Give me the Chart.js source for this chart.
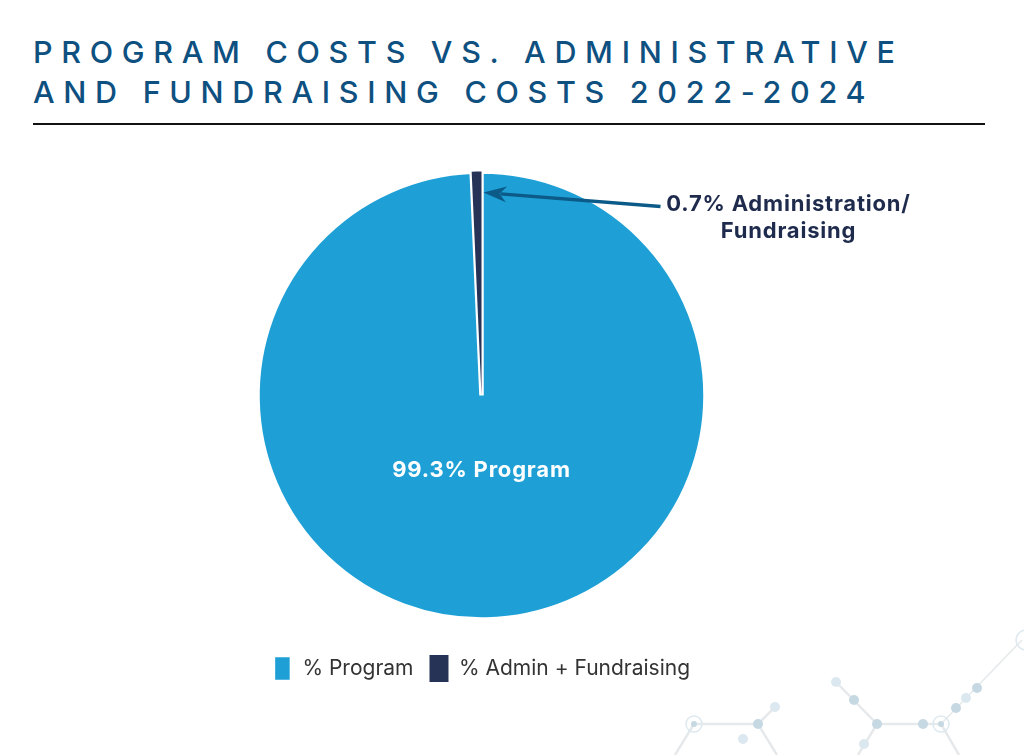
<!DOCTYPE html>
<html>
<head>
<meta charset="utf-8">
<script src="https://cdn.jsdelivr.net/npm/chart.js@4.4.1/dist/chart.umd.min.js"></script>
<style>
  html, body { margin:0; padding:0; background:#ffffff; }
  body { width:1024px; height:755px; position:relative; overflow:hidden; }
  #title { position:absolute; left:33px; top:32px; margin:0; font-family:"Inter", sans-serif; font-weight:500;
           font-size:30.5px; line-height:40px; letter-spacing:8.7px; color:#0e5080; white-space:nowrap; }
  #rule { position:absolute; left:33px; top:123px; width:952px; height:2px; background:#111; }
  #deco { position:absolute; left:0; top:0; }
  #wrap { position:absolute; left:0; top:0; width:1024px; height:755px; }
</style>
</head>
<body>
<svg id="deco" width="1024" height="755">
  <g stroke="#e6e9eb" stroke-width="2.5" fill="none">
    <line x1="694" y1="724" x2="758" y2="724"/>
    <line x1="694" y1="724" x2="675" y2="755"/>
    <line x1="758" y1="724" x2="777" y2="755"/>
    <line x1="758" y1="724" x2="775" y2="707"/>
    <line x1="836" y1="682" x2="877" y2="724"/>
    <line x1="877" y1="724" x2="941" y2="724"/>
    <line x1="877" y1="724" x2="858" y2="755"/>
    <line x1="941" y1="724" x2="959" y2="755"/>
    <line x1="941" y1="724" x2="1022" y2="640" stroke-width="1.5"/>
  </g>
  <g fill="none" stroke="#dde9ef" stroke-width="1.5">
    <circle cx="694" cy="724" r="8"/>
    <circle cx="941" cy="724" r="8"/>
    <circle cx="1026" cy="640" r="10"/>
  </g>
  <g fill="#c6d8e2">
    <circle cx="694" cy="724" r="3"/>
    <circle cx="941" cy="724" r="3"/>
    <circle cx="758" cy="724" r="5"/>
    <circle cx="854" cy="700" r="5"/>
    <circle cx="877" cy="724" r="5"/>
    <circle cx="923" cy="724" r="5"/>
    <circle cx="956" cy="708" r="5"/>
    <circle cx="977" cy="688" r="5"/>
  </g>
  <g fill="#dce8ef">
    <circle cx="775" cy="707" r="5"/>
    <circle cx="743" cy="739" r="5"/>
    <circle cx="836" cy="682" r="5"/>
    <circle cx="864" cy="744" r="5"/>
    <circle cx="966" cy="698" r="5"/>
  </g>
</svg>
<div id="title">PROGRAM COSTS VS. ADMINISTRATIVE<br>AND FUNDRAISING COSTS 2022-2024</div>
<div id="rule"></div>
<div id="wrap"><canvas id="c" width="1024" height="755"></canvas></div>
<script>
const categories = ["% Program", "% Admin + Fundraising"];
const percentValues = [99.3, 0.7];
const sliceColors = ["#1ea0d6", "#263357"];
const insideLabel = "99.3% Program";
const calloutLines = ["0.7% Administration/", "Fundraising"];

const labelPlugin = {
  id: "pieLabels",
  afterDatasetsDraw(chart) {
    const ctx = chart.ctx;
    const meta = chart.getDatasetMeta(0);
    const progArc = meta.data[0];
    const adminArc = meta.data[1];
    const cx = progArc.x, cy = progArc.y, r = progArc.outerRadius;
    ctx.save();
    ctx.letterSpacing = "0.8px";
    // inside label
    ctx.font = "700 22px Inter, sans-serif";
    ctx.fillStyle = "#ffffff";
    ctx.textAlign = "center";
    ctx.textBaseline = "middle";
    ctx.fillText(insideLabel, cx, cy + r * 0.335);

    // callout arrow
    const ang = adminArc.endAngle;
    const tipR = r * 0.906;
    const tipX = cx + tipR * Math.cos(ang) + 2;
    const tipY = cy + tipR * Math.sin(ang);
    const startX = cx + 179, startY = cy - 189;
    const dx = tipX - startX, dy = tipY - startY;
    const len = Math.hypot(dx, dy);
    const ux = dx / len, uy = dy / len;
    const headLen = 21, headW = 8;
    const baseX = tipX - ux * headLen, baseY = tipY - uy * headLen;
    ctx.strokeStyle = "#0b5a88";
    ctx.fillStyle = "#0b5a88";
    ctx.lineWidth = 3.4;
    ctx.beginPath();
    ctx.moveTo(startX, startY);
    ctx.lineTo(baseX + ux * 4, baseY + uy * 4);
    ctx.stroke();
    ctx.beginPath();
    ctx.moveTo(tipX, tipY);
    ctx.lineTo(baseX - uy * headW - ux * 2, baseY + ux * headW - uy * 2);
    ctx.lineTo(baseX + ux * 5, baseY + uy * 5);
    ctx.lineTo(baseX + uy * headW - ux * 2, baseY - ux * headW - uy * 2);
    ctx.closePath();
    ctx.fill();

    // callout text
    ctx.font = "700 22px Inter, sans-serif";
    ctx.fillStyle = "#1f2b4d";
    ctx.textAlign = "center";
    ctx.fillText(calloutLines[0], cx + 307, cy - 191);
    ctx.fillText(calloutLines[1], cx + 307, cy - 164);
    ctx.restore();
  }
};

new Chart(document.getElementById("c"), {
  type: "pie",
  data: {
    labels: categories,
    datasets: [{
      data: percentValues,
      backgroundColor: sliceColors,
      borderColor: "#ffffff",
      borderWidth: [4.5, 0],
      hoverOffset: 0
    }]
  },
  options: {
    responsive: false,
    animation: false,
    radius: 224,
    layout: { padding: { top: 152, left: 0, right: 61, bottom: 63 } },
    plugins: {
      tooltip: { enabled: false },
      legend: {
        position: "bottom",
        labels: {
          boxWidth: 19,
          boxHeight: 27,
          padding: 16,
          color: "#333333",
          font: { family: "Inter, sans-serif", size: 21, weight: "400" }
        }
      }
    }
  },
  plugins: [labelPlugin]
});
</script>
</body>
</html>
